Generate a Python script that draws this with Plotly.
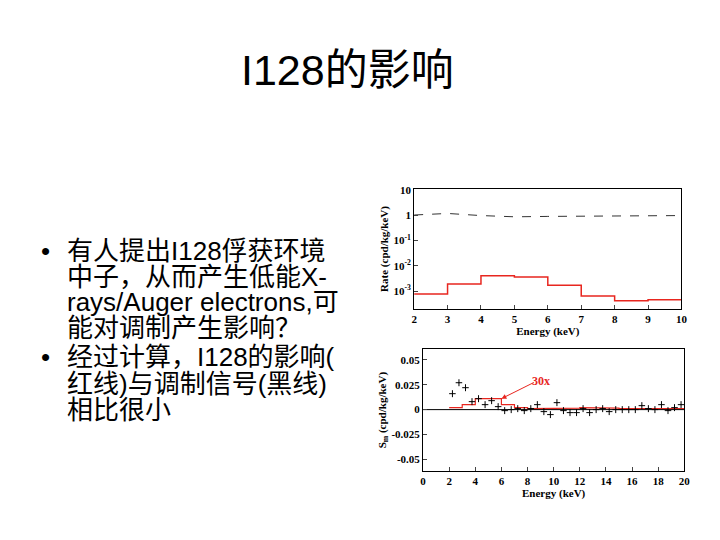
import plotly.graph_objects as go

# Top panel: rate
e_bins = [2, 3, 4, 5, 6, 7, 8, 9, 10]
i128_rate = [7.6e-4, 1.9e-3, 4.0e-3, 3.6e-3, 1.7e-3, 6.3e-4, 4.1e-4, 4.5e-4]
total_e = [2, 3, 4, 5, 6, 7, 8, 9, 10]
total_rate = [1.0, 1.15, 0.95, 0.85, 0.88, 0.9, 0.9, 0.92, 0.95]

# Bottom panel: modulation
sm_x = [2.25, 2.75, 3.25, 3.75, 4.25, 4.75, 5.25, 5.75, 6.25, 6.75, 7.25, 7.75, 8.25, 8.75,
        9.25, 9.75, 10.25, 10.75, 11.25, 11.75, 12.25, 12.75, 13.25, 13.75, 14.25, 14.75,
        15.25, 15.75, 16.25, 16.75, 17.25, 17.75, 18.25, 18.75, 19.25, 19.75]
sm_y = [0.016, 0.027, 0.022, 0.008, 0.011, 0.005, 0.009, 0.003, -0.001, 0.0, 0.001, -0.001,
        0.001, 0.005, -0.002, -0.005, 0.007, -0.001, -0.003, -0.003, 0.001, -0.003, 0.0, 0.001,
        -0.002, 0.0, 0.0, 0.0, 0.0, 0.004, 0.001, 0.0, 0.005, -0.001, 0.002, 0.005]
sm_err = 0.0035
red_bins = [2, 3, 4, 5, 6, 7, 8, 9, 10, 11, 12, 13, 14, 15, 16, 17, 18, 19, 20]
red_sm = [0.002, 0.005, 0.011, 0.011, 0.005, 0.002, 0.001, 0.001, 0.001, 0.0015, 0.002, 0.002,
          0.0015, 0.001, 0.001, 0.0015, 0.001, 0.001]

title = "I128的影响"
bullet_lines = ["有人提出I128俘获环境", "中子，从而产生低能X-", "rays/Auger electrons,可",
                "能对调制产生影响？", "经过计算，I128的影响(", "红线)与调制信号(黑线)", "相比很小"]
bullet_starts = [0, 4]

def step(edges, vals):
    xs, ys = [], []
    for i, v in enumerate(vals):
        xs += [edges[i], edges[i + 1]]
        ys += [v, v]
    return xs, ys

fig = go.Figure()
sx, sy = step(e_bins, i128_rate)
fig.add_trace(go.Scatter(x=sx, y=sy, mode="lines", line=dict(color="#e8261f", width=1.5), xaxis="x", yaxis="y"))
fig.add_trace(go.Scatter(x=total_e, y=total_rate, mode="lines", line=dict(color="#333", width=1, dash="dash"), xaxis="x", yaxis="y"))
rx, ry = step(red_bins, red_sm)
fig.add_trace(go.Scatter(x=rx, y=ry, mode="lines", line=dict(color="#e8261f", width=1.2), xaxis="x2", yaxis="y2"))
fig.add_trace(go.Scatter(x=[0, 20], y=[0, 0], mode="lines", line=dict(color="black", width=1), xaxis="x2", yaxis="y2"))
fig.add_trace(go.Scatter(x=sm_x, y=sm_y, mode="markers", marker=dict(size=1, color="black"),
                         error_x=dict(type="constant", value=0.25, width=0, color="black", thickness=1),
                         error_y=dict(type="constant", value=sm_err, width=0, color="black", thickness=1),
                         xaxis="x2", yaxis="y2"))

serif = dict(family="Liberation Serif", size=11, color="black")
ax = dict(showline=True, mirror=True, linecolor="black", linewidth=1, ticks="inside", ticklen=4,
          showgrid=False, zeroline=False, tickfont=serif)
fig.update_layout(
    width=720, height=540, margin=dict(l=0, r=0, t=0, b=0), showlegend=False,
    plot_bgcolor="white", paper_bgcolor="white",
    xaxis=dict(ax, domain=[0.567, 0.943], anchor="y", range=[2, 10],
               tickvals=list(range(2, 11)), ticktext=[f"<b>{v}</b>" for v in range(2, 11)],
               title=dict(text="<b>Energy (keV)</b>", font=serif, standoff=2)),
    yaxis=dict(ax, domain=[0.448, 0.672], anchor="x", type="log", range=[-3.7, 1.02],
               tickvals=[10, 1, 0.1, 0.01, 0.001],
               ticktext=["<b>10</b>", "<b>1</b>", "<b>10<sup>-1</sup></b>", "<b>10<sup>-2</sup></b>", "<b>10<sup>-3</sup></b>"],
               title=dict(text="<b>Rate (cpd/kg/keV)</b>", font=serif, standoff=2)),
    xaxis2=dict(ax, domain=[0.5795, 0.947], anchor="y2", range=[0, 20],
                tickvals=list(range(0, 21, 2)), ticktext=[f"<b>{v}</b>" for v in range(0, 21, 2)],
                title=dict(text="<b>Energy (keV)</b>", font=serif, standoff=2)),
    yaxis2=dict(ax, domain=[0.1444, 0.372], anchor="x2", range=[-0.0615, 0.0605],
                tickvals=[0.05, 0.025, 0, -0.025, -0.05],
                ticktext=["<b>0.05</b>", "<b>0.025</b>", "<b>0</b>", "<b>-0.025</b>", "<b>-0.05</b>"],
                title=dict(text="<b>S<sub>m</sub> (cpd/kg/keV)</b>", font=serif, standoff=2)),
)
fig.add_annotation(x=6, y=0.011, ax=8.6, ay=0.028, xref="x2", yref="y2", axref="x2", ayref="y2",
                   text="", showarrow=True, arrowhead=2, arrowwidth=1, arrowcolor="#e8261f")
fig.add_annotation(x=9.0, y=0.029, xref="x2", yref="y2", text="<b>30x</b>", showarrow=False,
                   font=dict(family="Liberation Serif", size=12, color="#e8261f"))
fig.add_annotation(x=341 / 720, y=1 - 30 / 540, xref="paper", yref="paper", text=title, showarrow=False,
                   font=dict(family="Liberation Sans, Noto Sans CJK SC", size=43, color="black"))
line_y = [240, 266, 291, 318, 347, 374, 400]
bfont = dict(family="Liberation Sans, Noto Sans CJK SC", size=26, color="black")
for i, b in enumerate(bullet_lines):
    yy = 1 - line_y[i] / 540
    if i in bullet_starts:
        fig.add_annotation(x=28 / 720, y=yy, xref="paper", yref="paper", text="•", showarrow=False,
                           xanchor="left", yanchor="middle", font=bfont)
    fig.add_annotation(x=55 / 720, y=yy, xref="paper", yref="paper", text=b, showarrow=False,
                       xanchor="left", yanchor="middle", font=bfont)
fig.write_html("out.html")
